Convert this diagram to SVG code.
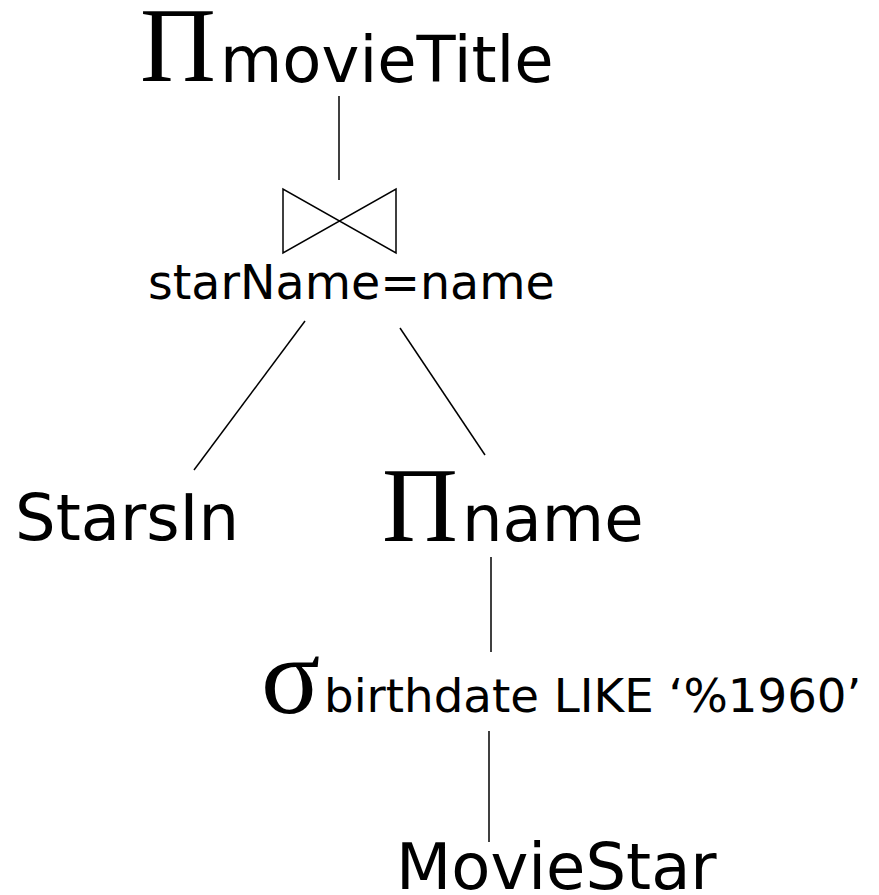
<svg xmlns="http://www.w3.org/2000/svg" width="879" height="895" viewBox="0 0 879 895">
<style>
.s{font-family:"DejaVu Sans",sans-serif;fill:#000}
.g{font-family:"Liberation Serif",serif;fill:#000}
.c{stroke:#000;stroke-width:1.5;fill:none}
</style>
<rect width="879" height="895" fill="#fff"/>
<g id="proj-movieTitle">
<text class="g" x="140" y="81" font-size="105">Π</text>
<text class="s" x="220" y="82" font-size="64">movieTitle</text>
</g>
<g id="join">
<path class="c" d="M283,189 L283,253 L396,189 L396,253 Z"/>
<text class="s" x="148" y="299" font-size="47.5">starName=name</text>
</g>
<g id="starsIn">
<text class="s" x="15" y="540" font-size="64">StarsIn</text>
</g>
<g id="proj-name">
<text class="g" x="382" y="541" font-size="105">Π</text>
<text class="s" x="462" y="541" font-size="64">name</text>
</g>
<g id="select">
<text class="g" x="261" y="713" font-size="110">σ</text>
<text class="s" x="324" y="712" font-size="46.7">birthdate LIKE ‘%1960’</text>
</g>
<g id="movieStar">
<text class="s" x="396" y="889" font-size="64">MovieStar</text>
</g>
<g id="connectors">
<line class="c" x1="339" y1="96" x2="339" y2="180"/>
<line class="c" x1="305" y1="321" x2="194" y2="470"/>
<line class="c" x1="400" y1="328" x2="485" y2="455"/>
<line class="c" x1="491" y1="557" x2="491" y2="652"/>
<line class="c" x1="489" y1="731" x2="489" y2="842"/>
</g>
</svg>
